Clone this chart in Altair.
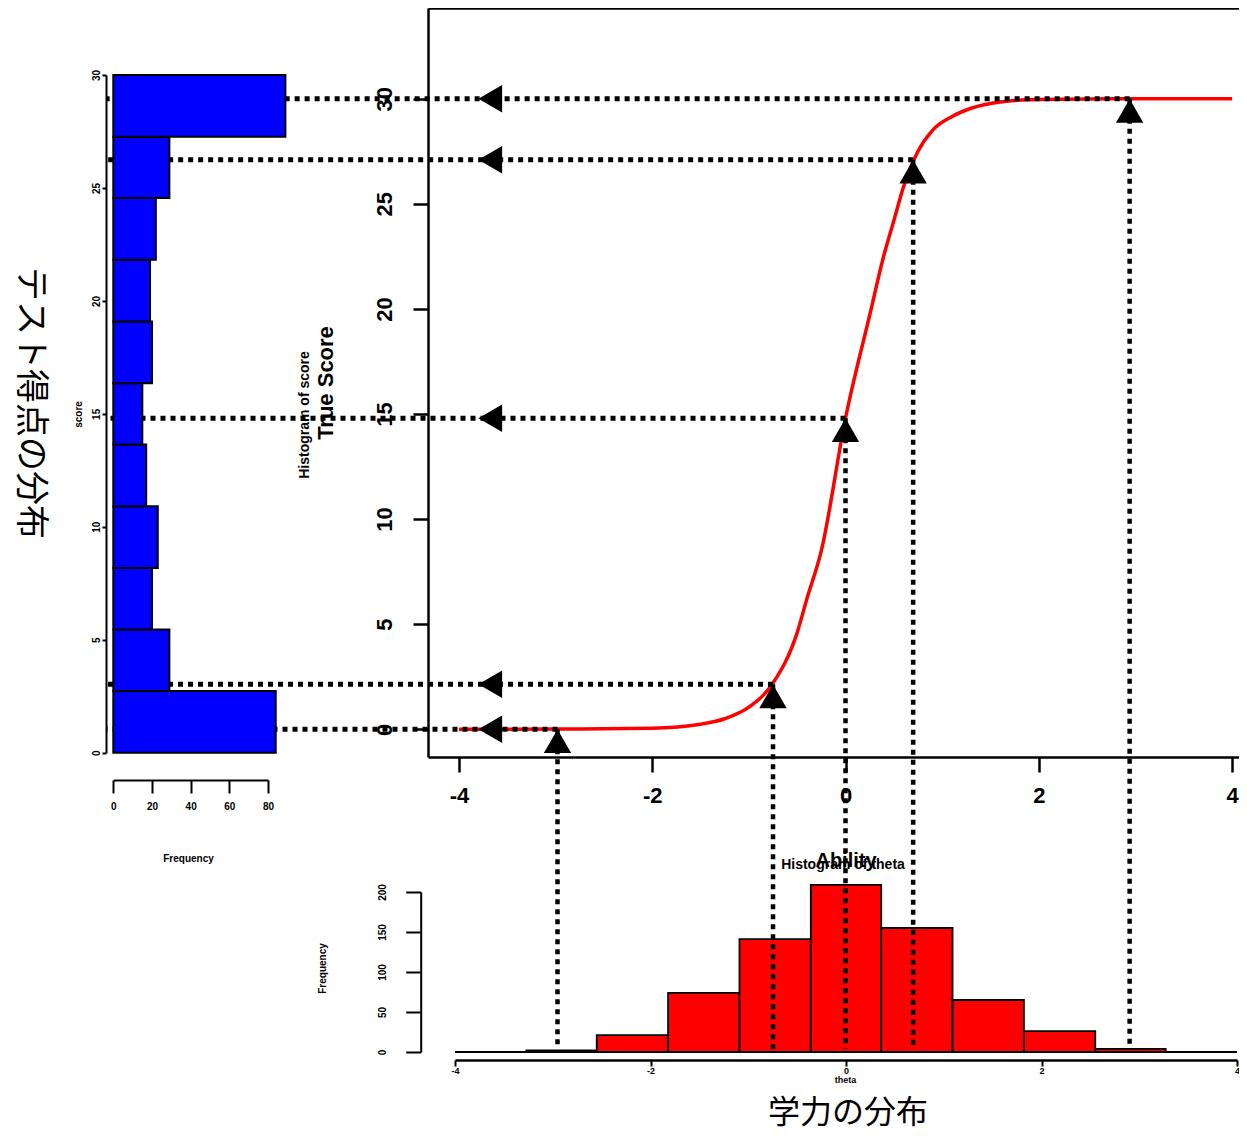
import altair as alt
import pandas as pd

# ---------------- data ----------------
# test characteristic curve (ability -> true score)
curve_ability = [-4, -3, -2, -1.5, -1.25, -1, -0.75, -0.5, -0.4, -0.25, 0, 0.25, 0.4, 0.5, 0.6, 0.75, 0.9, 1.1, 1.3, 1.6, 2, 3, 4]
curve_score = [0.0, 0.01, 0.05, 0.24, 0.5, 1.05, 2.2, 4.6, 6.2, 8.5, 14.8, 19.7, 22.6, 24.2, 25.8, 27.5, 28.5, 29.15, 29.55, 29.85, 29.97, 30.0, 30.0]

# projected examinees (ability, true score)
arrow_ability = [-2.98, -0.75, 0.0, 0.70, 2.94]
arrow_score = [0.0, 2.14, 14.8, 27.1, 30.0]
arrow_tip_ability = -3.8  # where the left-pointing arrowheads sit

# left histogram: test score distribution (bins bottom -> top)
score_bin_lo = [0, 2.73, 5.45, 8.18, 10.91, 13.64, 16.36, 19.09, 21.82, 24.55, 27.27]
score_bin_hi = [2.73, 5.45, 8.18, 10.91, 13.64, 16.36, 19.09, 21.82, 24.55, 27.27, 30]
score_count = [84, 29, 20, 23, 17, 15, 20, 19, 22, 29, 89]

# bottom histogram: ability distribution
theta_bin_lo = [-4, -3.27, -2.55, -1.82, -1.09, -0.36, 0.36, 1.09, 1.82, 2.55, 3.27]
theta_bin_hi = [-3.27, -2.55, -1.82, -1.09, -0.36, 0.36, 1.09, 1.82, 2.55, 3.27, 4]
theta_count = [0, 2, 21, 74, 141, 209, 155, 65, 26, 4, 0]

# tick labels
main_x_ticks = [-4, -2, 0, 2, 4]
main_y_ticks = [0, 5, 10, 15, 20, 25, 30]
left_score_ticks = [0, 5, 10, 15, 20, 25, 30]
left_freq_ticks = [0, 20, 40, 60, 80]
bot_theta_ticks = [-4, -2, 0, 2, 4]
bot_count_ticks = [0, 50, 100, 150, 200]

# ---------------- layout (pixels inside the chart area) ----------------
W, H = 1231, 1125
FONT = "Liberation Sans"
JP = "Noto Sans CJK JP"

MAIN_X = dict(domain=[-4.32, 4.32], range=[420, 1255])
MAIN_Y = dict(domain=[-1.32, 34.32], range=[749, 0])
LEFT_X = dict(domain=[0, 80], range=[105.3, 260])
LEFT_Y = dict(domain=[0, 30], range=[744.7, 67])
BOT_X = dict(domain=[-4, 4], range=[447, 1229])
BOT_Y = dict(domain=[0, 200], range=[1044, 884])
LEFT_AXIS_X = 98
LEFT_FREQ_AXIS_Y = 772
BOT_AXIS_X = 412.7
BOT_AXIS_Y = 1052


def sc(d):
    return alt.Scale(domain=d["domain"], range=d["range"], nice=False, zero=False)


def ax(**kw):
    base = dict(grid=False, domainColor="black", tickColor="black", labelColor="black",
                titleColor="black", labelFont=FONT, titleFont=FONT, labelFontWeight="bold",
                titleFontWeight="bold", labelFlush=False, labelOverlap=False)
    base.update(kw)
    return alt.Axis(**base)


minus_expr = "datum.value < 0 ? '-' + abs(datum.value) : '' + datum.value"

main_x_axis = ax(orient="bottom", offset=749 - H, values=main_x_ticks, tickSize=15, tickWidth=2.5,
                 domainWidth=2.5, labelFontSize=22, labelPadding=13, labelExpr=minus_expr,
                 title="Ability", titleFontSize=20, titleX=837.5, titleY=103,
                 titleAlign="center", titleBaseline="middle")
main_y_axis = ax(orient="left", offset=-420, values=main_y_ticks, tickSize=15, tickWidth=2.5,
                 domainWidth=2.5, labelFontSize=22, labelPadding=22, labelAngle=270,
                 labelAlign="center", labelBaseline="alphabetic",
                 title="True Score", titleFontSize=22, titleAngle=270, titleX=-103, titleY=374.5,
                 titleAlign="center", titleBaseline="middle")
top_border_axis = ax(orient="top", offset=0, ticks=False, labels=False, domainWidth=2.5, title="")

left_freq_axis = ax(orient="bottom", offset=LEFT_FREQ_AXIS_Y - H, values=left_freq_ticks, tickSize=13,
                    tickWidth=2, domainWidth=2, labelFontSize=10, labelPadding=8,
                    title="Frequency", titleFontSize=10, titleX=180, titleY=78,
                    titleAlign="center", titleBaseline="middle")
left_score_axis = ax(orient="left", offset=-LEFT_AXIS_X, values=left_score_ticks, tickSize=4,
                     tickWidth=2, domainWidth=2, labelFontSize=10, labelPadding=3, labelAngle=270,
                     labelAlign="center", labelBaseline="alphabetic",
                     title="score", titleFontSize=10, titleAngle=270, titleX=-28, titleY=406,
                     titleAlign="center", titleBaseline="middle")

bot_x_axis = ax(orient="bottom", offset=BOT_AXIS_Y - H, values=bot_theta_ticks, tickSize=6,
                tickWidth=2, domainWidth=2.5, labelFontSize=9, labelPadding=0, labelExpr=minus_expr,
                title="theta", titleFontSize=9, titleX=837, titleY=19,
                titleAlign="center", titleBaseline="middle")
bot_y_axis = ax(orient="left", offset=-BOT_AXIS_X, values=bot_count_ticks, tickSize=15,
                tickWidth=2, domainWidth=2, labelFontSize=10, labelPadding=20, labelAngle=270,
                labelAlign="center", labelBaseline="alphabetic",
                title="Frequency", titleFontSize=10, titleAngle=270, titleX=-98, titleY=960,
                titleAlign="center", titleBaseline="middle")

# ---------------- tables ----------------
curve_df = pd.DataFrame({"a": curve_ability, "t": curve_score})
arrow_df = pd.DataFrame({"a": arrow_ability, "t": arrow_score,
                         "tip": [arrow_tip_ability] * len(arrow_ability)})
left_df = pd.DataFrame({"lo": score_bin_lo, "hi": score_bin_hi, "n": score_count,
                        "zero": [0] * len(score_count)})
bot_df = pd.DataFrame({"lo": theta_bin_lo, "hi": theta_bin_hi, "n": theta_count,
                       "zero": [0] * len(theta_count)})

# ---------------- layers ----------------
bot_bars = alt.Chart(bot_df).mark_rect(fill="#FF0000", stroke="black", strokeWidth=1.8).encode(
    x=alt.X("lo:Q", scale=sc(BOT_X), axis=bot_x_axis), x2="hi:Q",
    y=alt.Y("n:Q", scale=sc(BOT_Y), axis=bot_y_axis), y2="zero:Q")

curve = alt.Chart(curve_df).mark_line(color="#FF0000", strokeWidth=3.5, interpolate="monotone").encode(
    x=alt.X("a:Q", scale=sc(MAIN_X), axis=main_x_axis),
    y=alt.Y("t:Q", scale=sc(MAIN_Y), axis=main_y_axis))

vlines = alt.Chart(arrow_df).mark_rule(color="black", strokeWidth=4.5, strokeDash=[5, 5]).encode(
    x=alt.X("a:Q", scale=sc(MAIN_X), axis=None),
    y=alt.Y("t:Q", scale=sc(MAIN_Y), axis=None),
    y2=alt.value(BOT_Y["range"][0] - 3))

hlines = alt.Chart(arrow_df).mark_rule(color="black", strokeWidth=5, strokeDash=[5, 5]).encode(
    x=alt.X("a:Q", scale=sc(MAIN_X), axis=top_border_axis),
    x2=alt.value(LEFT_AXIS_X),
    y=alt.Y("t:Q", scale=sc(MAIN_Y), axis=None))

left_bars = alt.Chart(left_df).mark_rect(fill="#0000FF", stroke="black", strokeWidth=2).encode(
    x=alt.X("zero:Q", scale=sc(LEFT_X), axis=left_freq_axis), x2="n:Q",
    y=alt.Y("lo:Q", scale=sc(LEFT_Y), axis=left_score_axis), y2="hi:Q")

up_heads = alt.Chart(arrow_df).mark_point(shape="triangle-up", filled=True, size=750, color="black",
                                          opacity=1, yOffset=12).encode(
    x=alt.X("a:Q", scale=sc(MAIN_X), axis=None),
    y=alt.Y("t:Q", scale=sc(MAIN_Y), axis=None))

left_heads = alt.Chart(arrow_df).mark_point(shape="triangle-left", filled=True, size=750, color="black",
                                            opacity=1, xOffset=12).encode(
    x=alt.X("tip:Q", scale=sc(MAIN_X), axis=None),
    y=alt.Y("t:Q", scale=sc(MAIN_Y), axis=None))


def label(txt, x, y, size, font=FONT, weight="bold", angle=0):
    return alt.Chart(pd.DataFrame({"s": [txt]})).mark_text(
        font=font, fontSize=size, fontWeight=weight, angle=angle, color="black",
        align="center", baseline="middle").encode(
        text="s:N", x=alt.value(x), y=alt.value(y))


texts = [
    label("テスト得点の分布", 22, 395, 34, font=JP, weight="normal", angle=90),
    label("学力の分布", 840, 1105, 32, font=JP, weight="normal"),
    label("Histogram of score", 297, 407, 14, angle=270),
    label("Histogram of theta", 835, 857, 14),
]

chart = alt.layer(bot_bars, curve, vlines, hlines, left_bars, up_heads, left_heads, *texts).resolve_scale(
    x="independent", y="independent"
).properties(
    width=W, height=H, padding=0, autosize=alt.AutoSizeParams(type="none")
).configure_view(strokeWidth=0)

chart.save("out.html", embed_options={"renderer": "svg", "actions": False})
